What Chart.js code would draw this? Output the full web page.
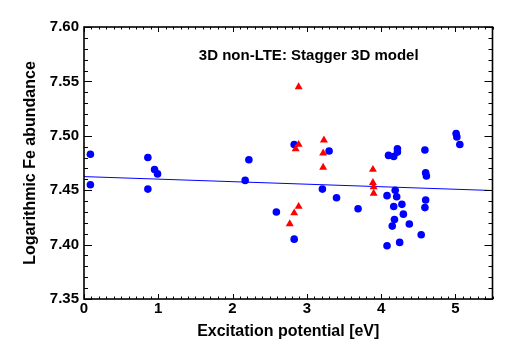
<!DOCTYPE html>
<html>
<head>
<meta charset="utf-8">
<script src="https://cdn.jsdelivr.net/npm/chart.js@4.4.1/dist/chart.umd.min.js"></script>
<style>
html,body{margin:0;padding:0;background:#fff;}
#wrap{width:518px;height:353px;position:relative;}
</style>
</head>
<body>
<div id="wrap"><canvas id="c" width="518" height="353"></canvas></div>
<script>
// Fe I lines (blue circles)
const feIExc = [0.086, 0.086, 0.86, 0.86, 0.95, 0.99, 2.17, 2.22, 2.59, 2.83, 2.83, 3.21, 3.30, 3.40, 3.69,
  4.08, 4.08, 4.10, 4.15, 4.17, 4.17, 4.18, 4.19, 4.21, 4.22, 4.22, 4.25, 4.28, 4.30, 4.38, 4.54,
  4.59, 4.59, 4.60, 4.61, 4.60, 5.01, 5.02, 5.06];
const feIAbund = [7.483, 7.455, 7.480, 7.451, 7.469, 7.465, 7.459, 7.478, 7.430, 7.492, 7.405, 7.451, 7.486, 7.443, 7.433,
  7.445, 7.399, 7.482, 7.417, 7.481, 7.435, 7.423, 7.450, 7.444, 7.488, 7.485, 7.402, 7.437, 7.428, 7.419, 7.409,
  7.487, 7.434, 7.466, 7.463, 7.441, 7.502, 7.499, 7.492];
// Fe II lines (red triangles)
const feIIExc = [2.89, 2.89, 2.85, 3.23, 3.22, 3.22, 3.89, 3.89, 3.90, 3.90, 2.89, 2.83, 2.77];
const feIIAbund = [7.545, 7.492, 7.488, 7.496, 7.484, 7.471, 7.469, 7.457, 7.453, 7.447, 7.435, 7.429, 7.419];
// Linear fit (endpoints)
const fitExc = [0, 5.5];
const fitAbund = [7.4625, 7.4497];
// Axes
const xTicks = [0, 1, 2, 3, 4, 5];
const yTicks = [7.35, 7.40, 7.45, 7.50, 7.55, 7.60];
const annotation = "3D non-LTE: Stagger 3D model";

const FONT = "'Liberation Sans', Arial, Helvetica, sans-serif";
const toPts = (xs, ys) => xs.map((x, i) => ({x: x, y: ys[i]}));

const framePlugin = {
  id: 'frame',
  afterDraw(chart) {
    const {ctx, chartArea: a, scales: {x, y}} = chart;
    ctx.save();
    ctx.strokeStyle = '#000';
    ctx.lineWidth = 1;
    ctx.beginPath();
    // x ticks (bottom & top)
    for (let i = 0; i <= 55; i++) {
      const v = i / 10;
      const px = Math.round(x.getPixelForValue(v)) + 0.5;
      const len = (i % 10 === 0) ? 5 : 2.5;
      ctx.moveTo(px, a.bottom); ctx.lineTo(px, a.bottom - len);
      ctx.moveTo(px, a.top); ctx.lineTo(px, a.top + len);
    }
    // y ticks (left & right)
    for (let i = 0; i <= 25; i++) {
      const v = 7.35 + i / 100;
      const py = Math.round(y.getPixelForValue(v)) + 0.5;
      const len = (i % 5 === 0) ? 8 : 4;
      ctx.moveTo(a.left, py); ctx.lineTo(a.left + len, py);
      ctx.moveTo(a.right, py); ctx.lineTo(a.right - len, py);
    }
    ctx.stroke();
    ctx.lineWidth = 1.6;
    ctx.strokeRect(a.left, a.top, a.right - a.left, a.bottom - a.top);
    // annotation
    ctx.fillStyle = '#000';
    ctx.font = "bold 15px " + FONT;
    ctx.textAlign = 'center';
    ctx.textBaseline = 'alphabetic';
    ctx.fillText(annotation, 308.7, 60);
    ctx.restore();
  }
};

new Chart(document.getElementById('c'), {
  type: 'scatter',
  data: {
    datasets: [
      {
        type: 'line',
        data: toPts(fitExc, fitAbund),
        borderColor: '#0000ff',
        borderWidth: 1,
        pointRadius: 0,
        fill: false,
        order: 3
      },
      {
        data: toPts(feIExc, feIAbund),
        pointStyle: 'circle',
        pointRadius: 3.8,
        pointHoverRadius: 3.8,
        backgroundColor: '#0000ff',
        borderColor: '#0000ff',
        borderWidth: 0,
        order: 2
      },
      {
        data: toPts(feIIExc, feIIAbund),
        pointStyle: 'triangle',
        pointRadius: 4.6,
        pointHoverRadius: 4.6,
        backgroundColor: '#ff0000',
        borderColor: '#ff0000',
        borderWidth: 0,
        order: 1
      }
    ]
  },
  options: {
    responsive: false,
    animation: false,
    devicePixelRatio: 1,
    layout: {padding: {top: 27, right: 25.5, left: 0, bottom: 0}},
    plugins: {legend: {display: false}, tooltip: {enabled: false}},
    scales: {
      x: {
        type: 'linear',
        min: 0, max: 5.5,
        afterFit(s) { s.height = 54; },
        afterBuildTicks(s) { s.ticks = xTicks.map(v => ({value: v})); },
        ticks: {
          color: '#000',
          font: {family: FONT, size: 15, weight: 'bold'},
          padding: 1,
          maxRotation: 0,
          callback: v => String(v)
        },
        grid: {display: false, drawTicks: false},
        border: {display: false},
        title: {
          display: true,
          text: 'Excitation potential [eV]',
          color: '#000',
          font: {family: FONT, size: 16, weight: 'bold'},
          padding: {top: 0, bottom: 11.4}
        }
      },
      y: {
        type: 'linear',
        min: 7.35, max: 7.60,
        afterFit(s) { s.width = 84; },
        afterBuildTicks(s) { s.ticks = yTicks.map(v => ({value: v})); },
        ticks: {
          color: '#000',
          font: {family: FONT, size: 15, weight: 'bold'},
          padding: 5,
          callback: v => Number(v).toFixed(2)
        },
        grid: {display: false, drawTicks: false},
        border: {display: false},
        title: {
          display: true,
          text: 'Logarithmic Fe abundance',
          color: '#000',
          font: {family: FONT, size: 16, weight: 'bold'},
          padding: {top: 21.4, bottom: 0}
        }
      }
    }
  },
  plugins: [framePlugin]
});
</script>
</body>
</html>
